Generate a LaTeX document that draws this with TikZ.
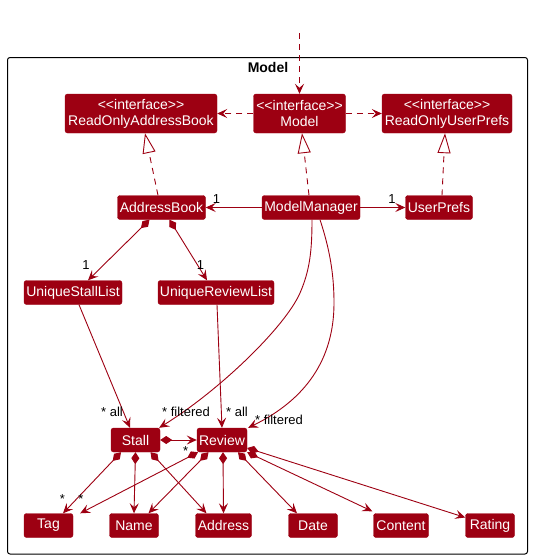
\documentclass[tikz,border=0pt]{standalone}
\usepackage{fontspec}
\setmainfont{Liberation Sans}
\usetikzlibrary{arrows.meta}
\definecolor{mc}{HTML}{9D0012}
\begin{document}
\begin{tikzpicture}[x=1pt,y=-1pt,
 cls/.style={fill=mc, draw=mc, text=white, rounded corners=2.5pt, inner sep=0pt, minimum height=24pt, font=\fontsize{14}{16}\selectfont},
 iface/.style={cls, minimum height=39pt, align=center},
 lbl/.style={font=\fontsize{13}{15}\selectfont, inner sep=0pt, anchor=base, text=black},
 conn/.style={draw=mc, line width=0.9pt},
 dep/.style={conn, dash pattern=on 6pt off 5pt, -{Stealth[length=10pt,width=9pt,inset=4pt]}},
 asc/.style={conn, -{Stealth[length=10pt,width=9pt,inset=4pt]}},
 real/.style={conn, dash pattern=on 6pt off 5pt, -{Triangle[length=20pt,width=13pt,fill=white]}},
 comp/.style={conn, {Diamond[length=12pt,width=8pt]}-{Stealth[length=10pt,width=9pt,inset=4pt]}},
]
\useasboundingbox (0,0) rectangle (533,560);
\draw[black, line width=1pt, rounded corners=2.5pt] (7.5,57.5) rectangle (527.5,554);
\node[font=\bfseries\fontsize{14}{16}\selectfont, anchor=base, inner sep=0pt] (title) at (268,72.7) {Model};

\node[iface, minimum width=152pt] (roab) at (141,113.5) {<\kern0pt<interface>\kern0pt>\\ReadOnlyAddressBook};
\node[iface, minimum width=92pt] (model) at (299.5,113.5) {<\kern0pt<interface>\kern0pt>\\Model};
\node[iface, minimum width=130pt] (roup) at (447,113.5) {<\kern0pt<interface>\kern0pt>\\ReadOnlyUserPrefs};
\node[cls, minimum width=88pt] (ab) at (161.5,207.5) {AddressBook};
\node[cls, minimum width=98pt] (mm) at (311,207.5) {ModelManager};
\node[cls, minimum width=67pt] (up) at (439,207.5) {UserPrefs};
\node[cls, minimum width=98pt] (usl) at (73,292.5) {UniqueStallList};
\node[cls, minimum width=116pt] (url) at (216,292.5) {UniqueReviewList};
\node[cls, minimum width=49pt] (stall) at (135.5,440) {Stall};
\node[cls, minimum width=50pt] (review) at (222,440) {Review};
\node[cls, minimum width=49pt] (tag) at (48.5,525.5) {Tag};
\node[cls, minimum width=49pt] (name) at (134,525.5) {Name};
\node[cls, minimum width=56pt] (address) at (223.5,525.5) {Address};
\node[cls, minimum width=49pt] (date) at (313,525.5) {Date};
\node[cls, minimum width=55pt] (content) at (401,525.5) {Content};
\node[cls, minimum width=49pt] (rating) at (490,525.5) {Rating};

\coordinate (ext) at (299.5,33);
\draw[dep] (ext) -- (model.north);
\draw[dep] (model.west) -- (roab.east);
\draw[dep] (model.east) -- (roup.west);
\draw[real] ([xshift=-3.5pt]ab.north) -- ([xshift=4pt]roab.south);
\draw[real] ([xshift=-2pt]mm.north) -- ([xshift=2.5pt]model.south);
\draw[real] ([xshift=3pt]up.north) -- ([xshift=-2pt]roup.south);
\draw[asc] (mm.west) -- (ab.east);
\draw[asc] (mm.east) -- (up.west);
\draw[comp] ([xshift=-12pt]ab.south) -- ([xshift=15pt]usl.north);
\draw[comp] ([xshift=8pt]ab.south) -- ([xshift=-9pt]url.north);
\draw[asc] ([xshift=6pt]usl.south) -- ([xshift=-5.5pt]stall.north);
\draw[asc] ([xshift=1pt]url.south) -- (review.north);
\draw[asc] ([xshift=1pt]mm.south) .. controls (312,250) and (310,270) .. (300,293) .. controls (285,327) and (220,390) .. ([xshift=-1pt]stall.north east);
\draw[asc] ([xshift=9pt]mm.south) .. controls (330,250) and (334,275) .. (334,303) .. controls (334,360) and (305,400) .. ([xshift=1pt]review.north east);
\draw[comp] (stall.east) -- (review.west);
\draw[comp] ([xshift=-14.5pt]stall.south) -- ([xshift=14.5pt]tag.north);
\draw[comp] (stall.south) -- (name.north);
\draw[comp] ([xshift=15pt]stall.south) -- ([xshift=-17pt]address.north);
\draw[comp] ([xshift=-24pt]review.south) -- ([xshift=7pt]tag.north east);
\draw[comp] ([xshift=-13.5pt]review.south) -- ([xshift=14.5pt]name.north);
\draw[comp] ([xshift=1pt]review.south) -- (address.north);
\draw[comp] ([xshift=16pt]review.south) -- ([xshift=-16pt]date.north);
\draw[comp] (review.south east) -- ([xshift=-1pt,yshift=2pt]content.north west);
\draw[comp] ([yshift=-8pt]review.east) -- ([yshift=8pt]rating.west);

\node[lbl] (l1) at (216.5,203.3) {1};
\node[lbl] (l2) at (392,203.3) {1};
\node[lbl] (l3) at (86,269) {1};
\node[lbl] (l4) at (200.5,269) {1};
\node[lbl] (l5) at (112,416.5) {* all};
\node[lbl] (l6) at (186,416.5) {* filtered};
\node[lbl] (l7) at (237,416.5) {* all};
\node[lbl] (l8) at (279,424) {* filtered};
\node[lbl] (l9) at (185.7,455.5) {*};
\node[lbl] (l10) at (62.5,503) {*};
\node[lbl] (l11) at (81,503) {*};
\end{tikzpicture}
\end{document}
